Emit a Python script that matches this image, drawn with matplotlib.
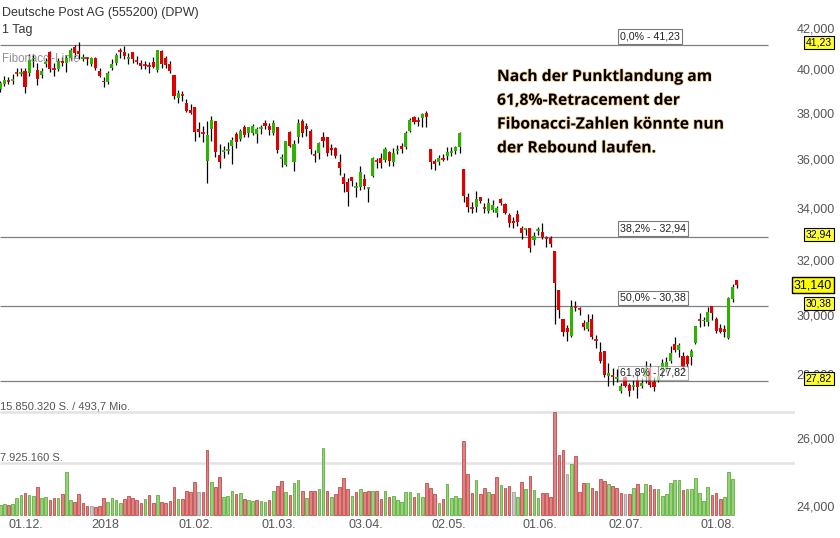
import numpy as np
import pandas as pd
import matplotlib
matplotlib.use('Agg')
import matplotlib.pyplot as plt
import matplotlib.patheffects as pe
from matplotlib.transforms import blended_transform_factory

plt.rcParams['font.family'] = ['Liberation Sans', 'DejaVu Sans']

# Handelstage Xetra (Feiertage ohne Handel)
feiertage = ['2017-12-25', '2017-12-26', '2018-01-01', '2018-03-30', '2018-04-02', '2018-05-01']
tage = pd.bdate_range('2017-11-23', '2018-08-08', freq='C', holidays=feiertage)

eroeffnung = [39.17, 39.40, 39.53, 39.56, 39.90, 39.89, 40.00, 39.90, 40.56, 40.05,
              39.81, 40.33, 40.89, 40.09, 40.09, 40.47, 40.37, 40.61, 41.13, 40.94,
              40.56, 40.63, 40.33, 40.61, 40.00, 39.53, 39.49, 40.14, 40.37, 40.96,
              40.89, 40.56, 40.89, 40.49, 40.37, 40.30, 40.25, 40.42, 40.05, 40.94,
              40.61, 40.33, 39.81, 38.76, 38.91, 38.53, 38.22, 38.35, 37.37, 37.22,
              36.00, 37.37, 37.73, 36.25, 36.40, 36.45, 36.64, 37.15, 36.94, 37.46,
              37.20, 37.20, 37.15, 37.41, 37.64, 37.51, 37.20, 37.46, 36.11, 35.83,
              37.24, 35.96, 37.02, 37.73, 37.51, 37.29, 36.27, 36.34, 37.02, 37.02,
              36.55, 36.55, 35.96, 35.33, 35.12, 35.33, 34.90, 34.92, 35.25, 34.86,
              35.37, 36.02, 36.12, 36.04, 36.38, 35.96, 36.45, 36.64, 36.59, 37.29,
              37.90, 37.75, 37.86, 38.08, 36.51, 36.00, 35.96, 36.10, 36.21, 36.34,
              36.42, 36.59, 35.66, 34.52, 34.09, 34.11, 34.52, 34.09, 33.96, 34.00,
              33.88, 34.44, 34.23, 33.80, 33.56, 33.84, 33.28, 33.23, 33.28, 32.82,
              33.19, 33.13, 32.91, 32.90, 32.40, 30.96, 29.93, 29.62, 29.34, 30.36,
              30.29, 29.79, 29.58, 29.93, 29.21, 28.79, 28.83, 28.00, 28.01, 27.90,
              27.51, 27.97, 27.70, 27.66, 27.87, 27.67, 27.97, 28.26, 27.80, 27.87,
              28.19, 28.19, 28.49, 29.06, 28.86, 28.66, 28.66, 28.62, 29.10, 29.91,
              29.86, 29.83, 30.38, 29.93, 29.62, 29.58, 29.27, 30.64, 31.33]
hoch = [39.53, 39.76, 39.72, 39.86, 40.14, 40.14, 40.14, 40.80, 40.80, 40.37,
        40.14, 40.61, 40.94, 40.37, 40.61, 40.66, 40.75, 41.09, 41.23, 41.37,
        40.80, 40.66, 40.66, 40.66, 40.14, 39.72, 40.00, 40.56, 40.85, 41.09,
        41.18, 40.85, 40.89, 40.70, 40.52, 40.47, 40.42, 40.66, 40.99, 40.99,
        40.70, 40.47, 39.81, 39.12, 39.07, 38.71, 38.49, 38.35, 37.68, 37.51,
        37.73, 37.95, 37.73, 36.72, 36.64, 36.81, 37.02, 37.24, 37.37, 37.55,
        37.46, 37.59, 37.46, 37.55, 37.77, 37.64, 37.77, 37.46, 36.29, 36.85,
        37.29, 36.90, 37.81, 37.81, 37.64, 37.37, 36.47, 36.81, 37.24, 37.02,
        36.72, 36.59, 36.29, 35.49, 35.29, 35.33, 35.12, 35.79, 35.45, 34.92,
        36.17, 36.12, 36.34, 36.59, 36.42, 36.55, 36.68, 36.77, 37.29, 37.86,
        37.95, 37.90, 38.08, 38.17, 36.51, 36.08, 36.25, 36.29, 36.59, 36.59,
        36.64, 37.24, 35.66, 34.68, 34.31, 34.76, 34.52, 34.27, 34.48, 34.40,
        34.15, 34.48, 34.27, 33.88, 33.72, 34.00, 33.36, 33.28, 33.28, 33.13,
        33.32, 33.48, 32.97, 32.97, 32.40, 30.96, 29.93, 29.72, 30.60, 30.56,
        30.35, 29.90, 30.11, 30.11, 29.37, 29.13, 28.83, 28.42, 28.26, 28.23,
        27.77, 28.00, 27.77, 27.87, 28.13, 27.93, 28.49, 28.42, 27.97, 28.33,
        28.56, 28.62, 29.00, 29.30, 29.10, 28.79, 28.69, 28.89, 29.69, 30.14,
        30.00, 30.35, 30.38, 30.00, 29.76, 29.72, 30.71, 31.18, 31.33]
tief = [39.03, 39.30, 39.40, 39.40, 39.76, 39.76, 38.98, 39.76, 40.19, 39.35,
        39.67, 40.19, 39.95, 39.76, 40.00, 40.23, 39.95, 40.52, 40.66, 40.56,
        40.47, 40.28, 40.23, 40.05, 39.72, 39.26, 39.40, 40.05, 40.28, 40.61,
        40.56, 40.33, 40.37, 40.33, 40.09, 40.09, 39.90, 40.14, 39.95, 40.14,
        40.14, 39.90, 38.71, 38.53, 38.62, 38.13, 38.04, 36.85, 37.02, 36.81,
        35.08, 36.85, 36.17, 35.70, 36.12, 36.29, 35.87, 36.55, 36.85, 37.02,
        37.02, 37.11, 36.77, 37.15, 37.37, 37.11, 37.11, 36.34, 35.75, 35.79,
        36.59, 35.58, 36.77, 37.02, 37.07, 36.29, 35.96, 36.08, 36.59, 36.21,
        36.25, 36.12, 35.41, 34.72, 34.15, 34.96, 34.52, 34.80, 34.84, 34.31,
        35.33, 35.70, 35.70, 35.96, 35.79, 35.79, 36.29, 36.34, 36.51, 37.24,
        37.59, 37.51, 37.46, 37.46, 35.66, 35.62, 35.83, 36.00, 36.04, 36.21,
        36.29, 36.34, 34.31, 33.92, 33.88, 33.92, 34.27, 33.88, 33.88, 33.92,
        33.72, 34.19, 33.84, 33.32, 33.28, 33.36, 32.86, 33.01, 32.36, 32.63,
        33.01, 32.86, 32.55, 32.55, 29.76, 29.97, 29.34, 29.17, 29.30, 30.21,
        30.07, 29.55, 29.51, 29.23, 28.93, 28.42, 27.97, 27.67, 27.70, 27.80,
        27.45, 27.64, 27.35, 27.54, 27.29, 27.61, 27.77, 27.64, 27.51, 27.80,
        27.97, 28.13, 28.42, 28.79, 28.62, 28.19, 28.29, 28.36, 29.06, 29.65,
        29.69, 29.69, 29.90, 29.44, 29.44, 29.30, 29.23, 30.53, 31.03]
schluss = [39.44, 39.58, 39.51, 39.58, 39.88, 39.91, 39.26, 40.52, 40.61, 39.63,
           40.00, 40.42, 40.09, 40.08, 40.47, 40.37, 40.61, 40.99, 40.85, 40.80,
           40.66, 40.61, 40.61, 40.14, 39.76, 39.49, 39.90, 40.33, 40.75, 40.94,
           40.70, 40.66, 40.56, 40.47, 40.23, 40.28, 40.23, 40.19, 40.99, 40.33,
           40.28, 40.00, 38.85, 38.98, 38.89, 38.17, 38.08, 37.24, 37.24, 37.20,
           37.11, 37.77, 36.38, 35.96, 36.42, 36.47, 36.90, 36.81, 37.29, 37.11,
           37.46, 37.51, 37.37, 37.43, 37.51, 37.33, 37.64, 36.47, 36.13, 36.85,
           36.64, 36.72, 37.64, 37.20, 37.37, 36.51, 36.25, 36.77, 36.85, 36.34,
           36.47, 36.21, 35.70, 35.04, 34.72, 35.16, 34.92, 35.54, 34.96, 34.88,
           36.12, 36.00, 35.91, 36.51, 36.00, 36.34, 36.47, 36.51, 37.20, 37.77,
           37.68, 37.73, 38.04, 37.90, 35.96, 35.87, 36.12, 36.08, 36.38, 36.42,
           36.59, 37.20, 34.56, 34.11, 34.07, 34.44, 34.36, 34.07, 34.27, 34.19,
           34.07, 34.27, 33.88, 33.48, 33.48, 33.52, 33.09, 33.25, 32.52, 32.97,
           33.21, 32.94, 32.90, 32.67, 31.22, 30.25, 29.48, 29.48, 30.35, 30.34,
           30.27, 29.65, 29.83, 29.30, 29.19, 28.49, 28.03, 28.10, 28.00, 27.97,
           27.67, 27.67, 27.51, 27.68, 27.64, 27.77, 28.26, 27.70, 27.64, 28.00,
           28.42, 28.46, 28.76, 28.86, 29.03, 28.29, 28.39, 28.83, 29.69, 29.89,
           29.90, 30.18, 30.14, 29.51, 29.47, 29.49, 30.67, 31.07, 31.14]

# Umsatz in Mio. Stueck (letzter Tag noch ohne Umsatz)
volumen = [1.53, 1.64, 1.53, 1.69, 2.66, 3.07, 3.32, 3.07, 2.91, 4.34,
           2.55, 2.81, 2.30, 2.66, 2.55, 3.17, 6.64, 2.30, 1.94, 3.17,
           1.79, 1.43, 1.43, 1.28, 1.43, 2.55, 1.99, 2.55, 2.30, 1.89,
           2.45, 2.91, 2.66, 2.30, 1.79, 2.45, 3.07, 1.79, 3.07, 2.04,
           1.89, 2.20, 4.34, 2.50, 2.50, 3.73, 3.58, 5.11, 3.48, 3.58,
           9.96, 5.11, 4.34, 5.88, 2.81, 2.91, 3.73, 3.17, 3.32, 2.45,
           2.30, 2.20, 2.30, 2.20, 1.99, 2.30, 3.73, 4.45, 5.26, 3.48,
           3.07, 4.86, 5.37, 3.68, 2.66, 3.68, 3.68, 3.94, 10.22, 3.68,
           2.81, 3.17, 4.34, 5.62, 3.99, 2.96, 3.48, 3.94, 3.53, 3.68,
           3.68, 3.68, 2.45, 3.68, 2.71, 2.91, 2.30, 1.99, 3.53, 3.53,
           2.71, 3.32, 2.81, 4.86, 4.09, 3.17, 1.79, 2.45, 4.75, 2.55,
           2.96, 2.55, 11.39, 6.24, 3.32, 5.37, 3.17, 4.09, 3.58, 3.22,
           5.88, 4.60, 4.09, 4.45, 3.48, 2.81, 5.01, 3.99, 5.98, 3.83,
           2.66, 3.32, 3.32, 2.81, 15.85, 9.20, 9.96, 6.29, 7.77, 9.10,
           3.58, 4.86, 4.86, 4.09, 3.68, 5.47, 5.26, 4.70, 4.50, 4.09,
           3.32, 3.17, 3.17, 4.09, 4.75, 3.32, 4.70, 4.60, 3.99, 3.99,
           2.91, 3.17, 4.86, 5.42, 5.37, 3.83, 3.99, 3.94, 5.72, 3.43,
           2.15, 4.30, 3.07, 3.43, 2.45, 2.71, 6.54, 5.52, np.nan]

fib_prozent = ['0,0%', '38,2%', '50,0%', '61,8%']
fib_niveaus = [41.23, 32.94, 30.38, 27.82]
kurs_ticks = [24, 26, 28, 30, 32, 34, 36, 38, 40, 42]
datum_ticks = ['2017-12-01', '2018-01-02', '2018-02-01', '2018-03-01', '2018-04-03',
               '2018-05-02', '2018-06-01', '2018-07-02', '2018-08-01']
datum_labels = ['01.12.', '2018', '01.02.', '01.03.', '03.04.', '02.05.', '01.06.', '02.07.', '01.08.']
vol_max = 15.850320  # Mio.

kommentar = ['Nach der Punktlandung am', '61,8%-Retracement der',
             'Fibonacci-Zahlen könnte nun', 'der Rebound laufen.']

# Farben
GRUEN = '#2eb400'
ROT = '#e00000'

W, H = 840, 538
fig = plt.figure(figsize=(W / 100, H / 100), dpi=100)
ax = fig.add_axes([0, 18 / H, 795 / W, 500 / H])
ax.set_yscale('log')
ax.set_ylim(23.66, 42.45)
schritt = 4.138  # Pixel pro Handelstag
x_links = -0.2 / schritt
x_rechts = (795 - 0.2) / schritt
ax.set_xlim(x_links, x_rechts)
ax.axis('off')

o = np.array(eroeffnung)
h = np.array(hoch)
l = np.array(tief)
c = np.array(schluss)
x = np.arange(len(c))

# Fibonacci-Linien
ax.hlines(fib_niveaus, x_links, (768 - 0.2) / schritt, color='#808080', lw=0.9, zorder=1)

# Kerzen
farben = np.where(c >= o, GRUEN, ROT)
ax.vlines(x, l, h, color='black', lw=0.9, zorder=2)
koerper = np.abs(c - o)
flach = koerper < 0.03
ax.bar(x[~flach], koerper[~flach], bottom=np.minimum(o, c)[~flach], width=0.75,
       color=farben[~flach], lw=0, zorder=3)
ax.hlines(c[flach], x[flach] - 0.42, x[flach] + 0.42, colors=farben[flach], lw=1.2, zorder=3)

# Umsatz auf eigener Achse
vx = ax.twinx()
px_pro_mio = 51.7 / (vol_max / 2)
vx.set_ylim(-5 / px_pro_mio, 495 / px_pro_mio)
vx.axis('off')
vx.hlines([vol_max, vol_max / 2], x_links, x_rechts, color='#e3e3e3', lw=1.8, zorder=0)
vorher = np.r_[c[0] - 1, c[:-1]]
fuell = np.where(c > vorher, '#96d27c', np.where(c < vorher, '#e08282', '#c8c8c8'))
rand = np.where(c > vorher, '#5fae3c', np.where(c < vorher, '#c24c4c', '#a0a0a0'))
vx.bar(x, volumen, width=0.64, color=fuell, edgecolor=rand, lw=0.6, zorder=2)

# Texte links oben
fig.text(2 / W, 1 - 13 / H, 'Deutsche Post AG (555200) (DPW)', va='center', fontsize=9, color='#333333')
fig.text(2 / W, 1 - 30 / H, '1 Tag', va='center', fontsize=9, color='#333333')
ax.text(2 / W, 1 - 59 / H, 'Fibonacci-Linie', transform=fig.transFigure, va='center',
        fontsize=8.3, color='#909090', zorder=2.5)

# Umsatz-Beschriftung
fig.text(0, 1 - 406.5 / H, '15.850.320 S. / 493,7 Mio.', va='center', fontsize=8, color='#555555')
fig.text(0, 1 - 458 / H, '7.925.160 S.', va='center', fontsize=8, color='#555555')

# Fibonacci-Kaesten
trans_r = blended_transform_factory(fig.transFigure, ax.transData)
for pz, lv in zip(fib_prozent, fib_niveaus):
    alpha = 0.6 if pz == '61,8%' else 1.0
    ax.annotate(f'{pz} - {lv:.2f}'.replace('.', ','), xy=(620 / W, lv), xycoords=trans_r,
                xytext=(0, 2.5), textcoords='offset points', ha='left', va='bottom',
                fontsize=7.7, color='#222222', zorder=6,
                bbox=dict(boxstyle='square,pad=0.2', fc='white', ec='#7a7a7a', lw=0.8, alpha=alpha))
    ax.annotate(f'{lv:.2f}'.replace('.', ','), xy=(832 / W, lv), xycoords=trans_r,
                xytext=(0, 2), textcoords='offset points', ha='right', va='center',
                fontsize=7.5, color='black', zorder=6,
                bbox=dict(boxstyle='square,pad=0.15', fc='#ffff33', ec='black', lw=0.8))

# Kursachse rechts
for v in kurs_ticks:
    ax.text(835 / W, v, f'{v:.3f}'.replace('.', ','), transform=trans_r, ha='right', va='center',
            fontsize=9, color='#555555')

# aktueller Kurs
ax.annotate(f'{c[-1]:.3f}'.replace('.', ','), xy=(832 / W, c[-1]), xycoords=trans_r,
            ha='right', va='center', fontsize=9, color='black', zorder=7,
            bbox=dict(boxstyle='square,pad=0.15', fc='#ffff00', ec='black', lw=1.0))

# Datumsachse
trans_x = blended_transform_factory(ax.transData, fig.transFigure)
pos = [tage.get_loc(pd.Timestamp(d)) for d in datum_ticks]
for p, t in zip(pos, datum_labels):
    ax.text(p + 0.3, 1 - 525 / H, t, transform=trans_x, ha='center', va='center',
            fontsize=9, color='#555555')

# Kommentar
for k, zeile in enumerate(kommentar):
    fig.text(497 / W, 1 - (77 + 23.8 * k) / H, zeile, family=['Open Sans', 'DejaVu Sans'],
             fontsize=11.3, fontweight='bold', color='black', va='center',
             path_effects=[pe.withStroke(linewidth=1.2, foreground='#f4d3a4')])

fig.savefig('out.png', dpi=100)
